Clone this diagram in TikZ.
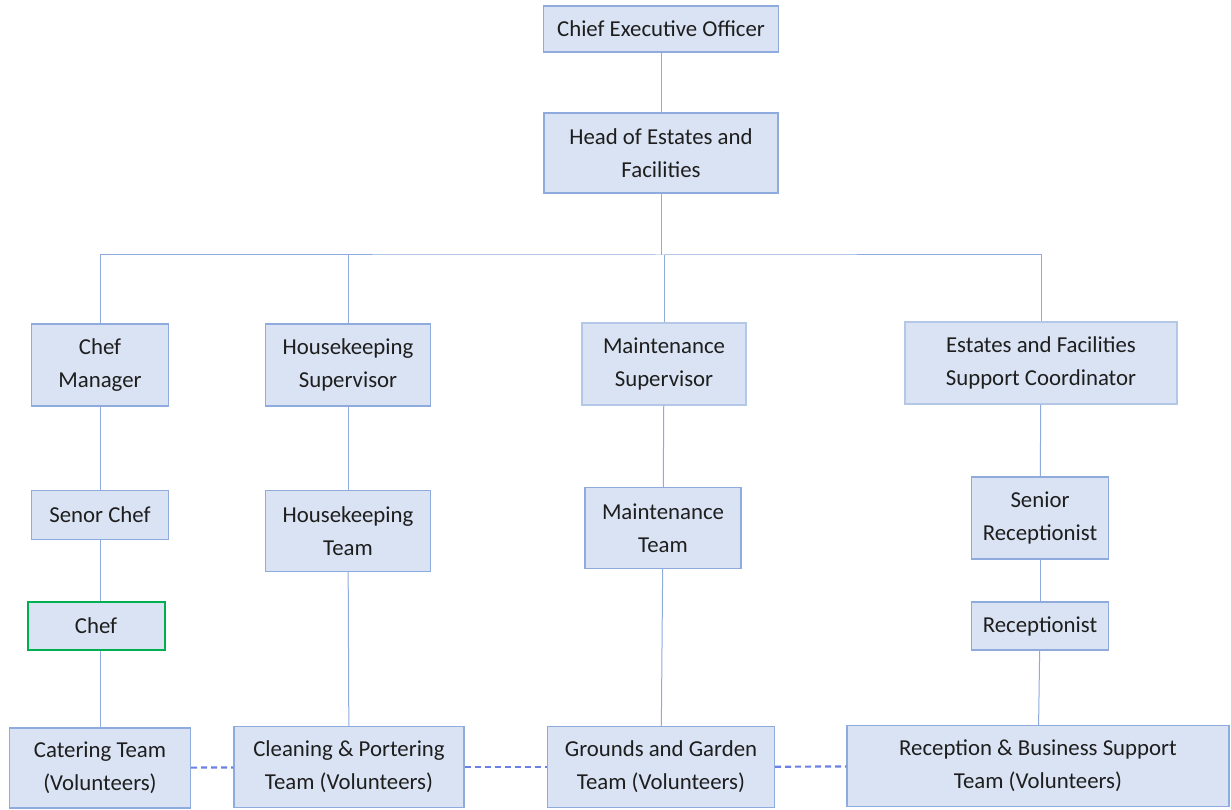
\documentclass[tikz,border=0pt]{standalone}
\usepackage{fontspec}
\setmainfont{Carlito}
\definecolor{boxfill}{HTML}{DAE3F3}
\definecolor{boxline}{HTML}{8FAADC}
\definecolor{paleline}{HTML}{B4C7E7}
\definecolor{chefline}{HTML}{00B050}
\definecolor{textgrey}{HTML}{1E1E1E}
\begin{document}
\begin{tikzpicture}[x=1pt,y=-1pt,
    role/.style={draw=boxline,fill=boxfill,line width=1.2pt,inner sep=0pt,align=center,
      text=textgrey,font=\fontsize{22.8}{33}\selectfont},
    link/.style={draw=boxline,line width=1pt},
    peer/.style={draw=boxline!75!blue,line width=2.2pt,dash pattern=on 6pt off 4pt}]
  \useasboundingbox (0,0) rectangle (1231,810);
  % Top of the tree.
  \node[role,minimum width=235,minimum height=46] (ceo) at (661,29) {Chief Executive Officer};
  \node[role,minimum width=234,minimum height=80] (head) at (661,153) {Head of Estates and\\Facilities};
  \draw[link] (ceo) -- (head);

  % The four departments.
  \node[role,minimum width=137,minimum height=82] (chefman) at (100,365) {Chef\\Manager};
  \node[role,minimum width=165,minimum height=82] (hksup) at (348,365) {Housekeeping\\Supervisor};
  \node[role,draw=paleline,minimum width=164,minimum height=82] (mtsup) at (664,364) {Maintenance\\Supervisor};
  \node[role,draw=paleline,minimum width=272,minimum height=82] (efsc) at (1041,363) {Estates and Facilities\\Support Coordinator};
  \coordinate (bus) at (661,255);
  \draw[link] (head.south) -- (bus);
  \draw[link] (chefman.north) |- (bus) -| (efsc.north);
  \draw[link] (hksup.north) -- (hksup.north |- bus);
  \draw[link] (mtsup.north) -- (mtsup.north |- bus);

  % Middle levels.
  \node[role,minimum width=137,minimum height=49] (senchef) at (100,515) {Senor Chef};
  \node[role,draw=chefline,line width=2pt,minimum width=137,minimum height=48] (chef) at (96,626) {Chef};
  \node[role,minimum width=165,minimum height=81] (hkteam) at (348,531) {Housekeeping\\Team};
  \node[role,minimum width=156,minimum height=81] (mtteam) at (663,528) {Maintenance\\Team};
  \node[role,minimum width=137,minimum height=82] (senrec) at (1040,518) {Senior\\Receptionist};
  \node[role,minimum width=137,minimum height=48] (rec) at (1040,626) {Receptionist};

  % Volunteer teams.
  \node[role,minimum width=181,minimum height=80] (catering) at (100,768) {Catering Team\\(Volunteers)};
  \node[role,minimum width=230,minimum height=81] (cleaning) at (349,767) {Cleaning \& Portering\\Team (Volunteers)};
  \node[role,minimum width=227,minimum height=81] (grounds) at (661,767) {Grounds and Garden\\Team (Volunteers)};
  \node[role,minimum width=382,minimum height=81] (reception) at (1038,766) {Reception \& Business Support\\Team (Volunteers)};

  % Reporting lines.
  \draw[link] (chefman) -- (senchef);
  \draw[link] (senchef.south) -- (senchef.south |- chef.north);
  \draw[link] (chef.south -| senchef.south) -- (catering.north -| senchef.south);
  \draw[link] (hksup) -- (hkteam);
  \draw[link] (hkteam) -- (cleaning);
  \draw[link] (mtsup) -- (mtteam);
  \draw[link] (mtteam) -- (grounds);
  \draw[link] (efsc) -- (senrec);
  \draw[link] (senrec) -- (rec);
  \draw[link] (rec) -- (reception);

  % Links between the volunteer teams.
  \draw[peer] (catering) -- (cleaning);
  \draw[peer] (cleaning) -- (grounds);
  \draw[peer] (grounds) -- (reception);
\end{tikzpicture}
\end{document}
